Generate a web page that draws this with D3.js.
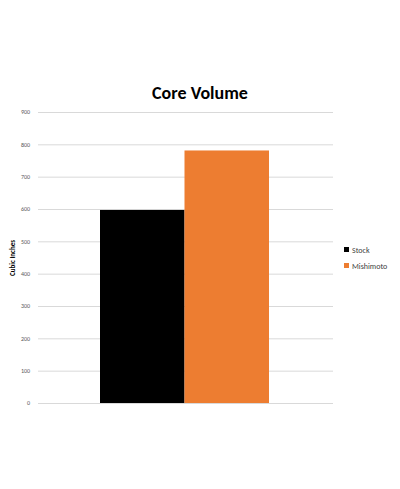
<!DOCTYPE html>
<html>
<head>
<meta charset="utf-8">
<script src="https://cdn.jsdelivr.net/npm/d3@7"></script>
<style>
  body { margin: 0; background: #fff; }
  text { font-family: Calibri, Carlito, 'Open Sans', sans-serif; }
</style>
</head>
<body>
<div id="chart"></div>
<script>
const series = ['Stock', 'Mishimoto']
const values = [597, 781]
const colors = ['#000000', '#ed7d31']
const yTicks = [0, 100, 200, 300, 400, 500, 600, 700, 800, 900]

const svg = d3.select('#chart').append('svg')
  .attr('width', 400).attr('height', 489)

const plotLeft = 38
const plotRight = 333
const plotTop = 112
const plotBottom = 403

const y = d3.scaleLinear().domain([0, 900]).range([plotBottom, plotTop])
const x = d3.scaleBand().domain(series).range([100, 269]).padding(0)

// Gridlines
svg.append('g')
  .attr('transform', `translate(${plotLeft},0)`)
  .call(d3.axisLeft(y).tickValues(yTicks).tickSize(-(plotRight - plotLeft)).tickPadding(8))
  .call(g => g.select('.domain').remove())
  .call(g => g.selectAll('.tick line').attr('stroke', '#d9d9d9'))
  .call(g => g.selectAll('.tick text').attr('fill', '#595959').attr('font-size', 6))

// Bars
svg.selectAll('rect.bar')
  .data(series)
  .enter().append('rect')
  .attr('class', 'bar')
  .attr('x', d => x(d))
  .attr('width', x.bandwidth())
  .attr('y', (d, i) => y(values[i]))
  .attr('height', (d, i) => plotBottom - y(values[i]))
  .attr('fill', (d, i) => colors[i])

// Title
svg.append('text')
  .attr('x', 200).attr('y', 99)
  .attr('text-anchor', 'middle')
  .attr('font-size', 18).attr('font-weight', 'bold')
  .attr('fill', '#000')
  .text('Core Volume')

// Y axis label
svg.append('text')
  .attr('transform', 'translate(15,258) rotate(-90)')
  .attr('text-anchor', 'middle')
  .attr('font-size', 7).attr('font-weight', 'bold')
  .text('Cubic Inches')

// Legend
const legend = svg.append('g')
series.forEach((s, i) => {
  legend.append('rect')
    .attr('x', 344).attr('y', 247 + i * 16)
    .attr('width', 5).attr('height', 5)
    .attr('fill', colors[i])
  legend.append('text')
    .attr('x', 352).attr('y', 252.5 + i * 16)
    .attr('font-size', 8).attr('fill', '#404040')
    .text(s)
})
</script>
</body>
</html>
